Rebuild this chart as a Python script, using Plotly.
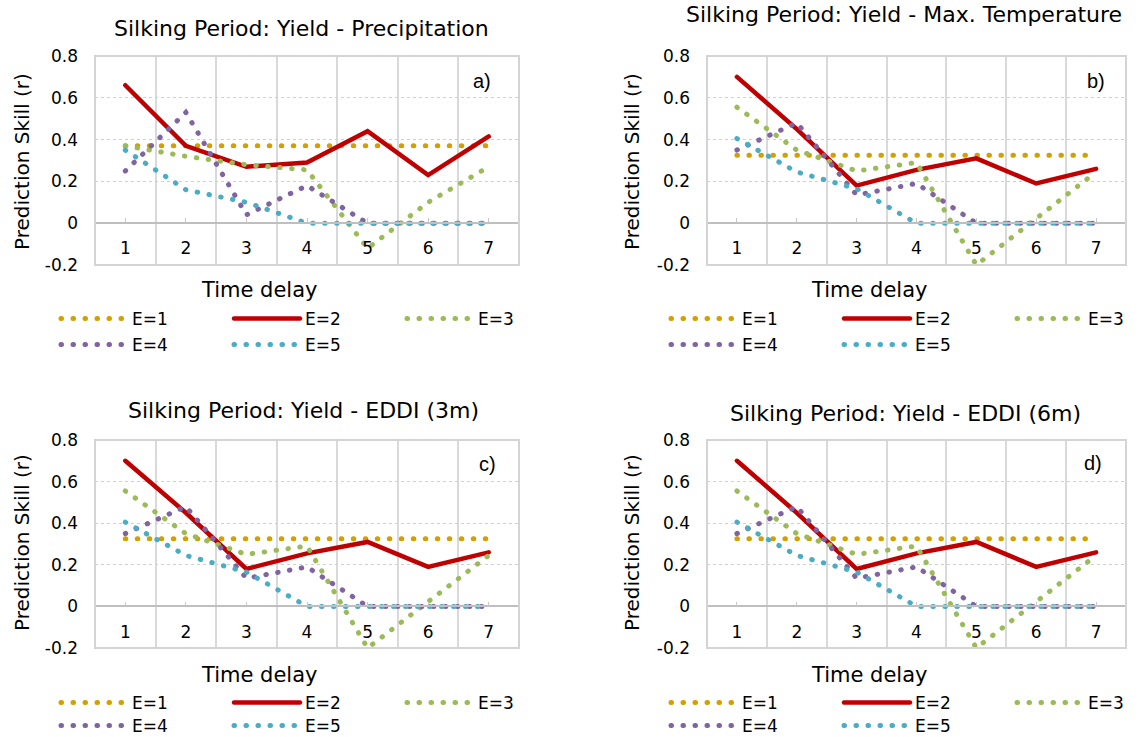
import plotly.graph_objects as go

W, H = 1138, 737

time_delay = [1, 2, 3, 4, 5, 6, 7]
tick_labels = ["1", "2", "3", "4", "5", "6", "7"]
series_names = ["E=1", "E=2", "E=3", "E=4", "E=5"]

# Panel a) Precipitation
a_E1 = [0.37, 0.37, 0.37, 0.37, 0.37, 0.37, 0.37]
a_E2 = [0.66, 0.37, 0.27, 0.29, 0.44, 0.23, 0.415]
a_E3 = [0.37, 0.32, 0.28, 0.255, -0.12, 0.10, 0.27]
a_E4 = [0.25, 0.53, 0.04, 0.18, 0.0, 0.0, 0.0]
a_E5 = [0.35, 0.16, 0.10, 0.0, 0.0, 0.0, 0.0]

# Panel b) Max. Temperature
b_E1 = [0.325, 0.325, 0.325, 0.325, 0.325, 0.325, 0.325]
b_E2 = [0.70, 0.45, 0.18, 0.255, 0.31, 0.19, 0.26]
b_E3 = [0.555, 0.35, 0.25, 0.29, -0.20, 0.02, 0.245]
b_E4 = [0.35, 0.48, 0.135, 0.19, 0.0, 0.0, 0.0]
b_E5 = [0.405, 0.245, 0.165, 0.0, 0.0, 0.0, 0.0]

# Panel c) EDDI (3m)
c_E1 = [0.325, 0.325, 0.325, 0.325, 0.325, 0.325, 0.325]
c_E2 = [0.70, 0.45, 0.18, 0.255, 0.31, 0.19, 0.26]
c_E3 = [0.555, 0.35, 0.25, 0.29, -0.20, 0.02, 0.245]
c_E4 = [0.35, 0.48, 0.135, 0.19, 0.0, 0.0, 0.0]
c_E5 = [0.405, 0.245, 0.165, 0.0, 0.0, 0.0, 0.0]

# Panel d) EDDI (6m)
d_E1 = [0.325, 0.325, 0.325, 0.325, 0.325, 0.325, 0.325]
d_E2 = [0.70, 0.45, 0.18, 0.255, 0.31, 0.19, 0.26]
d_E3 = [0.555, 0.35, 0.25, 0.29, -0.20, 0.02, 0.245]
d_E4 = [0.35, 0.48, 0.135, 0.19, 0.0, 0.0, 0.0]
d_E5 = [0.405, 0.245, 0.165, 0.0, 0.0, 0.0, 0.0]

y_tickvals = [-0.2, 0, 0.2, 0.4, 0.6, 0.8]
y_ticktext = ["-0.2", "0", "0.2", "0.4", "0.6", "0.8"]

colors = ["#D4A000", "#C00000", "#9BBB59", "#8064A2", "#4BACC6"]
FONT = "DejaVu Sans"

panels = [
    dict(title="Silking Period: Yield - Precipitation", label="a)",
         data=[a_E1, a_E2, a_E3, a_E4, a_E5],
         px=(95, 519), py=(56, 265), tpos=(302, 28), ylab=(22, 162),
         xlab=(259, 290), lab=(482, 81), leg=(56, 319, 345)),
    dict(title="Silking Period: Yield - Max. Temperature", label="b)",
         data=[b_E1, b_E2, b_E3, b_E4, b_E5],
         px=(707, 1126), py=(56, 265), tpos=(904, 14), ylab=(632, 162),
         xlab=(869, 290), lab=(1096, 81), leg=(666, 319, 345)),
    dict(title="Silking Period: Yield - EDDI (3m)", label="c)",
         data=[c_E1, c_E2, c_E3, c_E4, c_E5],
         px=(95, 519), py=(440, 648), tpos=(303, 410), ylab=(22, 543),
         xlab=(259, 675), lab=(487, 464), leg=(56, 703, 726)),
    dict(title="Silking Period: Yield - EDDI (6m)", label="d)",
         data=[d_E1, d_E2, d_E3, d_E4, d_E5],
         px=(707, 1126), py=(440, 648), tpos=(905, 413), ylab=(632, 543),
         xlab=(869, 675), lab=(1093, 463), leg=(666, 703, 726)),
]

fig = go.Figure()
annotations = []
shapes = []
layout_extra = {}

for i, p in enumerate(panels):
    n = i + 1
    xs = "" if n == 1 else str(n)
    xname, yname = "x" + xs, "y" + xs
    leg1 = "legend" if n == 1 else "legend%d" % (2 * n - 1)
    leg2 = "legend%d" % (2 * n)
    for k, (name, vals) in enumerate(zip(series_names, p["data"])):
        if k == 1:
            line = dict(color=colors[k], width=4.5)
        else:
            line = dict(color=colors[k], width=5, dash="0.5px,11.5px")
        fig.add_trace(go.Scatter(
            x=time_delay, y=vals, mode="lines", name=name, line=line,
            xaxis=xname, yaxis=yname,
            legend=leg1 if k < 3 else leg2,
            showlegend=True, hoverinfo="skip"))

    x0, x1 = p["px"]
    ytop, ybot = p["py"]
    xdom = [x0 / W, x1 / W]
    ydom = [1 - ybot / H, 1 - ytop / H]
    ymin, ymax = -0.2, 0.8
    zero_pos = ydom[0] + (0 - ymin) / (ymax - ymin) * (ydom[1] - ydom[0])

    layout_extra["xaxis" + xs] = dict(
        domain=xdom, range=[0.5, 7.5], anchor="free", position=zero_pos,
        tickvals=time_delay, ticktext=tick_labels,
        ticks="inside", ticklen=4, tickcolor="#c8c8c8", tickwidth=1,
        showline=True, linecolor="#bfbfbf", linewidth=1.5,
        showgrid=False, zeroline=False,
        tickfont=dict(family=FONT, size=17, color="#000000"),
        ticklabelstandoff=10,
        minor=dict(tick0=0.5, dtick=1, showgrid=True, gridcolor="#d9d9d9",
                   gridwidth=1.5, ticks=""),
        fixedrange=True,
    )
    layout_extra["yaxis" + xs] = dict(
        domain=ydom, range=[ymin, ymax], anchor=xname,
        tickvals=y_tickvals, ticktext=y_ticktext,
        showgrid=True, gridcolor="#d0d0d0", gridwidth=1, griddash="dot",
        zeroline=False, showline=False, ticks="",
        tickfont=dict(family=FONT, size=17, color="#000000"),
        ticklabelstandoff=16, fixedrange=True,
    )
    shapes.append(dict(type="rect", xref=xname + " domain", yref=yname + " domain",
                       x0=0, x1=1, y0=0, y1=1,
                       line=dict(color="#d4d4d4", width=2), layer="above"))

    annotations.append(dict(text=p["title"], x=p["tpos"][0] / W, y=1 - p["tpos"][1] / H,
                            xref="paper", yref="paper", xanchor="center", yanchor="middle",
                            showarrow=False, font=dict(family=FONT, size=22, color="#000000")))
    annotations.append(dict(text="Prediction Skill (r)", x=p["ylab"][0] / W, y=1 - p["ylab"][1] / H,
                            xref="paper", yref="paper", xanchor="center", yanchor="middle",
                            textangle=-90, showarrow=False,
                            font=dict(family=FONT, size=20, color="#000000")))
    annotations.append(dict(text="Time delay", x=p["xlab"][0] / W, y=1 - p["xlab"][1] / H,
                            xref="paper", yref="paper", xanchor="center", yanchor="middle",
                            showarrow=False, font=dict(family=FONT, size=21, color="#000000")))
    annotations.append(dict(text=p["label"], x=p["lab"][0] / W, y=1 - p["lab"][1] / H,
                            xref="paper", yref="paper", xanchor="center", yanchor="middle",
                            showarrow=False,
                            font=dict(family="Liberation Sans", size=20, color="#000000")))

    lx, ly1, ly2 = p["leg"]
    for lname, ly in ((leg1, ly1), (leg2, ly2)):
        layout_extra[lname] = dict(
            x=lx / W, y=1 - ly / H, xanchor="left", yanchor="middle",
            orientation="h", entrywidth=92, entrywidthmode="pixels",
            itemwidth=66, bgcolor="rgba(0,0,0,0)", borderwidth=0,
            font=dict(family=FONT, size=17, color="#000000"),
            itemclick=False, itemdoubleclick=False, tracegroupgap=0,
        )

fig.update_layout(
    width=W, height=H, margin=dict(l=0, r=0, t=0, b=0, pad=0, autoexpand=False),
    paper_bgcolor="#ffffff", plot_bgcolor="#ffffff",
    annotations=annotations, shapes=shapes,
    **layout_extra,
)

post = """
document.body.style.margin = '0';
document.body.style.padding = '0';
document.body.style.overflow = 'hidden';
var gd = document.getElementById('{plot_id}');
function roundCaps(){
  gd.querySelectorAll('path.js-line').forEach(function(p){ p.style.strokeLinecap = 'round'; });
}
roundCaps();
setTimeout(roundCaps, 30);
if (gd.on) { gd.on('plotly_afterplot', roundCaps); }
"""

fig.write_html("out.html", post_script=post, config={"displayModeBar": False})
